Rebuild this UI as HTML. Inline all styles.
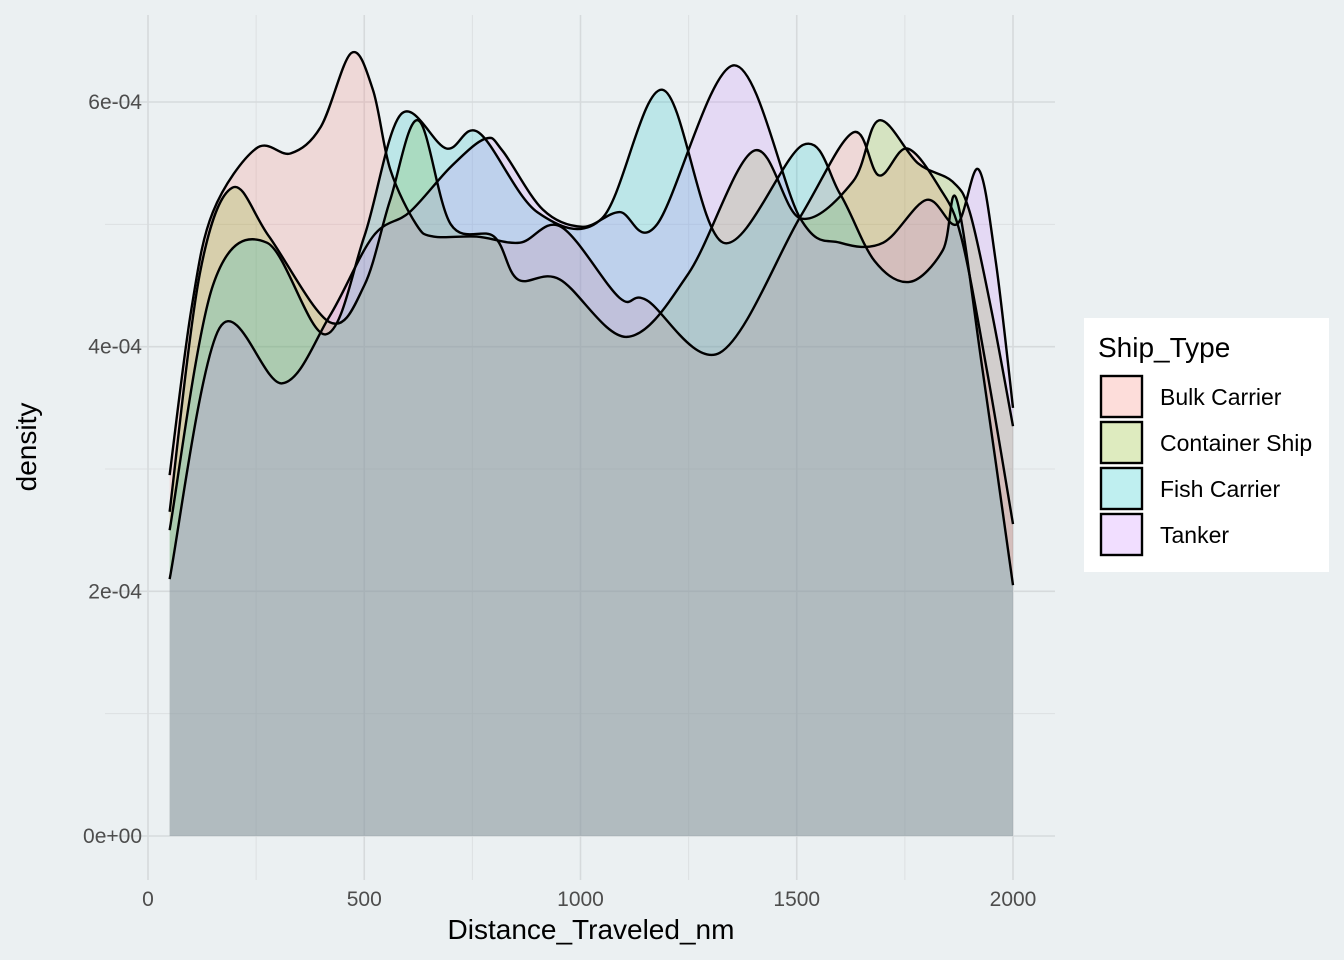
<!DOCTYPE html>
<html><head><meta charset="utf-8"><style>
body{margin:0;background:#EBF0F2;}
svg{display:block;font-family:"Liberation Sans",Arial,sans-serif;}
</style></head><body>
<svg id="chart" width="1344" height="960" viewBox="0 0 1344 960">
<rect x="0" y="0" width="1344" height="960" fill="#EBF0F2"/>
<g id="grid"></g>
<g id="areas"></g>
<g id="axes"></g>
<text x="591" y="939" font-size="28" text-anchor="middle" fill="#000">Distance_Traveled_nm</text>
<text x="0" y="0" font-size="28" text-anchor="middle" fill="#000" transform="translate(36,447) rotate(-90)">density</text>
<g>
<rect x="1084" y="318" width="245" height="254" fill="#fff"/>
<text x="1098" y="357" font-size="28" fill="#000">Ship_Type</text>
<g id="legend-items"></g>
</g>
</svg>
<script>
const seriesNames = ["Bulk Carrier","Container Ship","Fish Carrier","Tanker"];
const seriesColors = ["#F8766D","#7CAE00","#00BFC4","#C77CFF"];
const xTicks = [0,500,1000,1500,2000];
const xTickLabels = ["0","500","1000","1500","2000"];
const yTicks = [0,0.0002,0.0004,0.0006];
const yTickLabels = ["0e+00","2e-04","4e-04","6e-04"];
// density values in units of 1e-4
const bulkX = [50,100,150,250,330,400,470,520,560,620,660,760,860,955,1090,1153,1322,1508,1630,1690,1755,1830,1880,1940,2000];
const bulkY = [2.95,4.3,5.1,5.62,5.58,5.8,6.4,6.1,5.45,5.0,4.9,4.9,4.85,4.98,4.4,4.38,3.95,5.06,5.75,5.4,5.62,5.3,4.9,3.8,2.55];
const contX = [50,120,195,280,420,500,560,625,700,800,855,952,1107,1250,1400,1508,1630,1690,1780,1860,1900,1950,2000];
const contY = [2.65,4.6,5.3,4.9,4.2,4.5,5.2,5.85,5.0,4.9,4.55,4.55,4.08,4.6,5.6,5.05,5.35,5.85,5.5,5.35,5.1,4.3,3.35];
const fishX = [50,150,275,410,500,585,690,765,900,1050,1190,1330,1515,1600,1680,1762,1838,1870,1930,2000];
const fishY = [2.5,4.5,4.85,4.1,4.9,5.9,5.62,5.75,5.1,5.05,6.1,4.85,5.65,5.25,4.7,4.53,4.79,5.2,3.8,2.05];
const tankX = [50,165,310,420,520,605,700,780,820,913,1005,1090,1177,1355,1508,1600,1700,1800,1870,1920,1960,2000];
const tankY = [2.1,4.15,3.7,4.25,4.9,5.1,5.47,5.7,5.6,5.12,4.98,5.1,5.0,6.3,5.05,4.85,4.85,5.2,5.0,5.45,4.7,3.5];
const seriesX = [bulkX,contX,fishX,tankX];
const seriesY = [bulkY,contY,fishY,tankY];

const NS="http://www.w3.org/2000/svg";
const X0=105,X1=1055,Y0=15,Y1=880;
function sx(v){return 148+(v/2000)*865;}
function sy(v){return 836-(v/0.0006)*734;}
function mk(tag,attrs,parent){const e=document.createElementNS(NS,tag);for(const k in attrs)e.setAttribute(k,attrs[k]);parent.appendChild(e);return e;}
const grid=document.getElementById('grid');
[250,750,1250,1750].forEach(v=>{const l=mk('line',{x1:sx(v),x2:sx(v),y1:Y0,y2:Y1,stroke:'#DCE0E2','stroke-width':1},grid);

});
[0.0001,0.0003,0.0005].forEach(v=>{const l=mk('line',{x1:X0,x2:X1,y1:sy(v),y2:sy(v),stroke:'#DCE0E2','stroke-width':1},grid);

});
xTicks.forEach((v,i)=>{const l=mk('line',{x1:sx(v),x2:sx(v),y1:Y0,y2:Y1,stroke:'#D6DADC','stroke-width':1.6},grid);


const t=mk('text',{x:sx(v),y:906,'font-size':21,'text-anchor':'middle',fill:'#4D4D4D'},document.getElementById('axes'));t.textContent=xTickLabels[i];

});
yTicks.forEach((v,i)=>{const l=mk('line',{x1:X0,x2:X1,y1:sy(v),y2:sy(v),stroke:'#D6DADC','stroke-width':1.6},grid);


const t=mk('text',{x:142,y:sy(v)+7,'font-size':21,'text-anchor':'end',fill:'#4D4D4D'},document.getElementById('axes'));t.textContent=yTickLabels[i];

});

function curvePath(xs,ys){
  const p=xs.map((x,i)=>[sx(x),sy(ys[i]*1e-4)]);
  let d=`M${p[0][0]},${p[0][1]}`;
  for(let i=0;i<p.length-1;i++){
    const p0=p[Math.max(i-1,0)],p1=p[i],p2=p[i+1],p3=p[Math.min(i+2,p.length-1)];
    const c1=[p1[0]+(p2[0]-p0[0])/6,p1[1]+(p2[1]-p0[1])/6];
    const c2=[p2[0]-(p3[0]-p1[0])/6,p2[1]-(p3[1]-p1[1])/6];
    d+=` C${c1[0]},${c1[1]} ${c2[0]},${c2[1]} ${p2[0]},${p2[1]}`;
  }
  return {d,first:p[0],last:p[p.length-1]};
}
const areas=document.getElementById('areas');
seriesX.forEach((xs,i)=>{
  const c=curvePath(xs,seriesY[i]);
  const a=mk('path',{d:c.d+` L${c.last[0]},${sy(0)} L${c.first[0]},${sy(0)} Z`,fill:seriesColors[i],'fill-opacity':0.2,stroke:'none'},areas);
  
  
});
seriesX.forEach((xs,i)=>{
  const c=curvePath(xs,seriesY[i]);
  const l=mk('path',{d:c.d,fill:'none',stroke:'#000','stroke-width':2.4},areas);
  
  
});
const li=document.getElementById('legend-items');
seriesNames.forEach((n,i)=>{
  const y=375+i*46;
  mk('rect',{x:1100,y:y,width:43,height:43,fill:'#fff'},li);
  const r=mk('rect',{x:1101,y:y+1,width:41,height:41,fill:seriesColors[i],'fill-opacity':0.25,stroke:'#000','stroke-width':2.4},li);
  
  
  const t=mk('text',{x:1160,y:y+30,'font-size':23,fill:'#000'},li);t.textContent=n;
  
  
});
</script>
</body></html>
